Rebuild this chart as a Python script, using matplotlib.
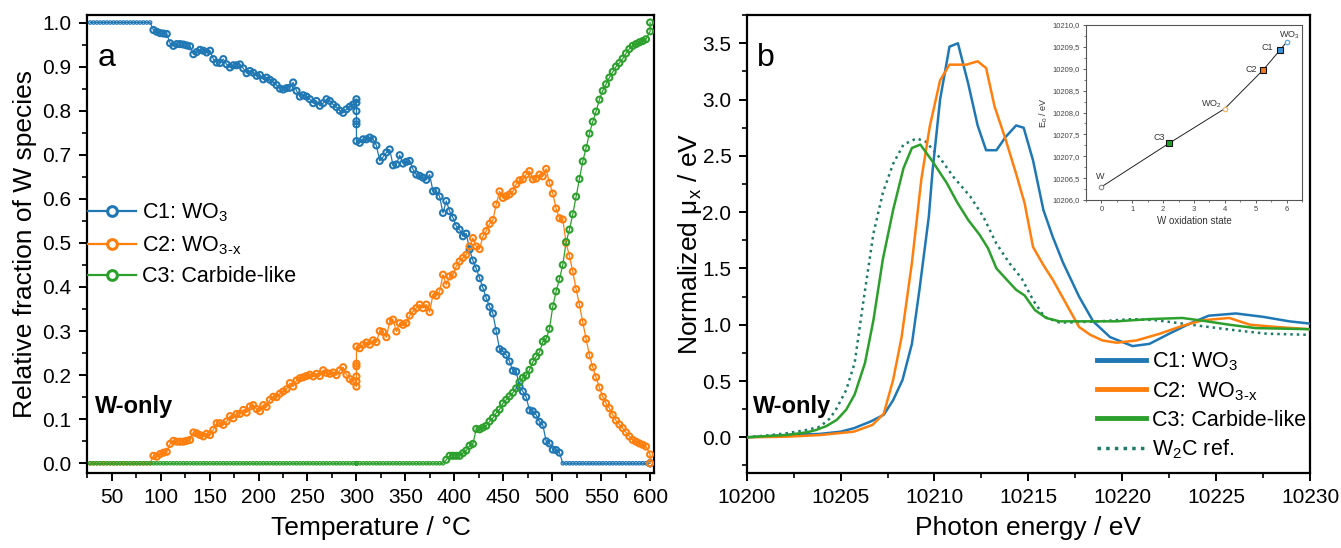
import matplotlib
matplotlib.use('Agg')
import matplotlib.pyplot as plt
from matplotlib.ticker import MultipleLocator, FuncFormatter
from matplotlib.lines import Line2D

plt.rcParams['font.family'] = ['Liberation Sans', 'DejaVu Sans']
plt.rcParams['mathtext.fontset'] = 'custom'
plt.rcParams['mathtext.rm'] = 'Liberation Sans'
plt.rcParams['mathtext.it'] = 'Liberation Sans:italic'
plt.rcParams['mathtext.bf'] = 'Liberation Sans:bold'

# ---------------- Panel a data ----------------
temperature = [
    28.0, 31.4, 34.8, 38.2, 41.6, 45.0, 48.4, 51.8, 55.2, 58.6,
    62.0, 65.4, 68.8, 72.2, 75.6, 79.0, 82.4, 85.8, 89.2, 92.6,
    96.0, 99.4, 102.8, 106.2, 109.6, 113.0, 116.4, 119.8, 123.2, 126.6,
    130.0, 133.4, 136.8, 140.2, 143.6, 147.0, 150.4, 153.8, 157.2, 160.6,
    164.0, 167.4, 170.8, 174.2, 177.6, 181.0, 184.4, 187.8, 191.2, 194.6,
    198.0, 201.4, 204.8, 208.2, 211.6, 215.0, 218.4, 221.8, 225.2, 228.6,
    232.0, 235.4, 238.8, 242.2, 245.6, 249.0, 252.4, 255.8, 259.2, 262.6,
    266.0, 269.4, 272.8, 276.2, 279.6, 283.0, 286.4, 289.8, 293.2, 296.6,
    300.0, 300.0, 300.0, 300.0, 300.0, 300.0,
    303.4, 306.8, 310.2, 313.6, 317.0, 320.4, 323.8, 327.2, 330.6, 334.0,
    337.4, 340.8, 344.2, 347.6, 351.0, 354.4, 357.8, 361.2, 364.6, 368.0,
    371.4, 374.8, 378.2, 381.6, 385.0, 388.4, 391.8, 395.2, 398.6, 402.0,
    405.4, 408.8, 412.2, 415.6, 419.0, 422.4, 425.8, 429.2, 432.6, 436.0,
    439.4, 442.8, 446.2, 449.6, 453.0, 456.4, 459.8, 463.2, 466.6, 470.0,
    473.4, 476.8, 480.2, 483.6, 487.0, 490.4, 493.8, 497.2, 500.6, 504.0,
    507.4, 510.8, 514.2, 517.6, 521.0, 524.4, 527.8, 531.2, 534.6, 538.0,
    541.4, 544.8, 548.2, 551.6, 555.0, 558.4, 561.8, 565.2, 568.6, 572.0,
    575.4, 578.8, 582.2, 585.6, 589.0, 592.4, 595.8,
    600.0, 600.0]

c1_wo3 = [
    1.0, 1.0, 1.0, 1.0, 1.0, 1.0, 1.0, 1.0, 1.0, 1.0,
    1.0, 1.0, 1.0, 1.0, 1.0, 1.0, 1.0, 1.0, 1.0, 0.983,
    0.979, 0.976, 0.975, 0.974, 0.953, 0.947, 0.951, 0.951, 0.950, 0.948,
    0.946, 0.928, 0.933, 0.938, 0.936, 0.932, 0.936, 0.917, 0.909, 0.908,
    0.917, 0.905, 0.898, 0.903, 0.903, 0.905, 0.896, 0.885, 0.890, 0.886,
    0.879, 0.881, 0.871, 0.875, 0.870, 0.865, 0.858, 0.850, 0.848, 0.851,
    0.852, 0.864, 0.845, 0.832, 0.835, 0.832, 0.826, 0.817, 0.822, 0.811,
    0.817, 0.826, 0.822, 0.814, 0.808, 0.800, 0.795, 0.803, 0.809, 0.814,
    0.826, 0.818, 0.799, 0.776, 0.769, 0.731,
    0.727, 0.735, 0.735, 0.739, 0.735, 0.721, 0.686, 0.695, 0.705, 0.712,
    0.676, 0.678, 0.699, 0.680, 0.684, 0.686, 0.667, 0.655, 0.652, 0.648,
    0.643, 0.655, 0.617, 0.618, 0.605, 0.568, 0.595, 0.572, 0.557, 0.538,
    0.530, 0.515, 0.521, 0.485, 0.460, 0.442, 0.420, 0.398, 0.375, 0.355,
    0.340, 0.300, 0.259, 0.254, 0.246, 0.231, 0.210, 0.208, 0.174, 0.163,
    0.150, 0.120, 0.118, 0.110, 0.094, 0.087, 0.050, 0.045, 0.031, 0.030,
    0.024, 0.0, 0.0, 0.0, 0.0, 0.0, 0.0, 0.0, 0.0, 0.0,
    0.0, 0.0, 0.0, 0.0, 0.0, 0.0, 0.0, 0.0, 0.0, 0.0,
    0.0, 0.0, 0.0, 0.0, 0.0, 0.0, 0.0,
    0.0, 0.0]

c2_wo3x = [
    0.0, 0.0, 0.0, 0.0, 0.0, 0.0, 0.0, 0.0, 0.0, 0.0,
    0.0, 0.0, 0.0, 0.0, 0.0, 0.0, 0.0, 0.0, 0.0, 0.017,
    0.015, 0.021, 0.024, 0.026, 0.044, 0.051, 0.049, 0.049, 0.049, 0.051,
    0.053, 0.070, 0.068, 0.064, 0.061, 0.067, 0.064, 0.076, 0.091, 0.091,
    0.087, 0.095, 0.107, 0.102, 0.112, 0.112, 0.121, 0.115, 0.129, 0.132,
    0.123, 0.118, 0.132, 0.128, 0.144, 0.151, 0.150, 0.158, 0.163, 0.168,
    0.182, 0.174, 0.188, 0.193, 0.195, 0.198, 0.201, 0.197, 0.203, 0.198,
    0.211, 0.205, 0.203, 0.206, 0.200, 0.211, 0.218, 0.201, 0.191, 0.186,
    0.174, 0.186, 0.197, 0.220, 0.226, 0.265,
    0.261, 0.269, 0.274, 0.269, 0.279, 0.275, 0.300, 0.298, 0.286, 0.322,
    0.326, 0.299, 0.318, 0.314, 0.318, 0.335, 0.345, 0.352, 0.360, 0.352,
    0.360, 0.343, 0.383, 0.380, 0.390, 0.428, 0.405, 0.424, 0.428, 0.447,
    0.458, 0.466, 0.473, 0.492, 0.511, 0.492, 0.486, 0.515, 0.527, 0.543,
    0.552, 0.587, 0.617, 0.602, 0.606, 0.610, 0.617, 0.633, 0.642, 0.644,
    0.655, 0.663, 0.644, 0.646, 0.655, 0.651, 0.668, 0.636, 0.612, 0.578,
    0.556, 0.553, 0.500, 0.470, 0.435, 0.395, 0.360, 0.320, 0.282, 0.245,
    0.218, 0.195, 0.172, 0.151, 0.136, 0.125, 0.110, 0.097, 0.088, 0.080,
    0.070, 0.061, 0.053, 0.049, 0.045, 0.042, 0.038,
    0.020, 0.000]

c3_carbide = [
    0.0, 0.0, 0.0, 0.0, 0.0, 0.0, 0.0, 0.0, 0.0, 0.0,
    0.0, 0.0, 0.0, 0.0, 0.0, 0.0, 0.0, 0.0, 0.0, 0.0,
    0.0, 0.0, 0.0, 0.0, 0.0, 0.0, 0.0, 0.0, 0.0, 0.0,
    0.0, 0.0, 0.0, 0.0, 0.0, 0.0, 0.0, 0.0, 0.0, 0.0,
    0.0, 0.0, 0.0, 0.0, 0.0, 0.0, 0.0, 0.0, 0.0, 0.0,
    0.0, 0.0, 0.0, 0.0, 0.0, 0.0, 0.0, 0.0, 0.0, 0.0,
    0.0, 0.0, 0.0, 0.0, 0.0, 0.0, 0.0, 0.0, 0.0, 0.0,
    0.0, 0.0, 0.0, 0.0, 0.0, 0.0, 0.0, 0.0, 0.0, 0.0,
    0.0, 0.0, 0.0, 0.0, 0.0, 0.0,
    0.0, 0.0, 0.0, 0.0, 0.0, 0.0, 0.0, 0.0, 0.0, 0.0,
    0.0, 0.0, 0.0, 0.0, 0.0, 0.0, 0.0, 0.0, 0.0, 0.0,
    0.0, 0.0, 0.0, 0.0, 0.0, 0.0, 0.008, 0.017, 0.017, 0.017,
    0.017, 0.023, 0.029, 0.040, 0.044, 0.078, 0.077, 0.081, 0.085, 0.095,
    0.103, 0.114, 0.122, 0.136, 0.144, 0.152, 0.160, 0.170, 0.184, 0.194,
    0.199, 0.212, 0.230, 0.242, 0.252, 0.276, 0.282, 0.305, 0.356, 0.390,
    0.418, 0.450, 0.502, 0.530, 0.565, 0.605, 0.645, 0.685, 0.715, 0.748,
    0.775, 0.798, 0.825, 0.845, 0.860, 0.875, 0.888, 0.900, 0.908, 0.918,
    0.930, 0.940, 0.947, 0.951, 0.955, 0.958, 0.962,
    0.980, 1.000]

series_a_labels = ['C1: WO$_3$', 'C2: WO$_{\\mathrm{3\u2010x}}$', 'C3: Carbide-like']

# ---------------- Panel b data ----------------
c1_energy = [10200, 10201, 10202.1, 10203.9, 10205.0, 10205.7, 10206.6, 10207.3, 10207.8, 10208.3,
             10208.8, 10209.2, 10209.7, 10209.9, 10210.3, 10210.8, 10211.25, 10211.8, 10212.3, 10212.75,
             10213.3, 10213.8, 10214.35, 10214.75, 10215.25, 10215.8, 10216.3, 10216.85, 10217.7, 10218.45,
             10219.35, 10220.55, 10221.45, 10222.5, 10223.6, 10224.6, 10226.05, 10227.5, 10228.9, 10230]
c1_mu = [0.0, 0.008, 0.02, 0.03, 0.05, 0.08, 0.14, 0.20, 0.33, 0.51,
         0.83, 1.31, 1.96, 2.37, 3.00, 3.47, 3.50, 3.14, 2.77, 2.55,
         2.55, 2.67, 2.77, 2.75, 2.46, 2.02, 1.78, 1.55, 1.25, 1.03,
         0.89, 0.81, 0.83, 0.92, 1.01, 1.08, 1.10, 1.07, 1.03, 1.01]

c2_energy = [10200, 10202.1, 10203.9, 10205.7, 10206.7, 10207.3, 10207.8, 10208.25, 10208.8, 10209.3,
             10209.75, 10210.3, 10210.8, 10211.7, 10212.3, 10212.75, 10213.2, 10213.8, 10214.35, 10214.8,
             10215.25, 10215.8, 10216.3, 10217.0, 10217.7, 10218.3, 10218.95, 10219.7, 10220.75, 10222.0,
             10223.2, 10224.3, 10225.7, 10226.8, 10228.2, 10230]
c2_mu = [0.0, 0.005, 0.02, 0.05, 0.11, 0.21, 0.51, 0.89, 1.55, 2.29,
         2.76, 3.17, 3.31, 3.31, 3.34, 3.28, 2.94, 2.64, 2.34, 2.08,
         1.69, 1.53, 1.40, 1.19, 0.98, 0.91, 0.86, 0.84, 0.86, 0.92,
         0.99, 1.04, 1.06, 1.00, 0.98, 0.96]

c3_energy = [10200, 10201, 10202.1, 10203.2, 10203.7, 10204.25, 10204.8, 10205.3, 10205.75, 10206.3,
             10206.75, 10207.25, 10207.8, 10208.35, 10208.8, 10209.25, 10209.9, 10210.65, 10211.2, 10211.8,
             10212.4, 10212.85, 10213.3, 10213.85, 10214.35, 10214.8, 10215.35, 10215.95, 10216.65, 10217.55,
             10219.7, 10221.45, 10223.2, 10224.3, 10225.7, 10227.1, 10230]
c3_mu = [0.0, 0.01, 0.02, 0.044, 0.065, 0.10, 0.155, 0.245, 0.38, 0.66,
         1.04, 1.58, 2.02, 2.39, 2.57, 2.60, 2.45, 2.26, 2.09, 1.93,
         1.80, 1.68, 1.50, 1.40, 1.31, 1.26, 1.13, 1.06, 1.03, 1.03,
         1.03, 1.05, 1.06, 1.035, 1.00, 0.97, 0.96]

w2c_energy = [10200, 10201, 10202.1, 10203.2, 10203.9, 10204.45, 10204.8, 10205.3, 10205.75, 10206.2,
              10206.75, 10207.25, 10207.8, 10208.35, 10209.05, 10209.55, 10210.3, 10211.0, 10211.9, 10212.6,
              10213.3, 10214.0, 10214.65, 10215.25, 10215.85, 10216.65, 10217.2, 10218.8, 10220.55, 10221.8,
              10223.2, 10224.6, 10226.05, 10227.7, 10230]
w2c_mu = [0.0, 0.015, 0.035, 0.065, 0.094, 0.17, 0.26, 0.42, 0.66, 1.19,
          1.81, 2.17, 2.43, 2.60, 2.655, 2.625, 2.48, 2.315, 2.14, 1.96,
          1.72, 1.545, 1.41, 1.22, 1.07, 1.02, 1.02, 1.03, 1.05, 1.04,
          1.01, 0.98, 0.95, 0.92, 0.91]

series_b_labels = ['C1: WO$_3$', 'C2:  WO$_{\\mathrm{3\u2010x}}$', 'C3: Carbide-like', 'W$_2$C ref.']

# ---------------- Inset data ----------------
ox_state = [0.0, 2.2, 4.0, 5.25, 5.78, 6.0]
edge_e0 = [10206.30, 10207.30, 10208.09, 10208.98, 10209.42, 10209.61]
point_names = ['W', 'C3', 'WO$_2$', 'C2', 'C1', 'WO$_3$']

BLUE, ORANGE, GREEN, TEAL = '#1f77b4', '#ff7f0e', '#2ca02c', '#1e7b68'

fig = plt.figure(figsize=(13.41, 5.48), dpi=100)
axA = fig.add_axes([0.0647, 0.1369, 0.4233, 0.8357])
axB = fig.add_axes([0.5568, 0.1369, 0.4201, 0.8357])
axI = fig.add_axes([0.8098, 0.635, 0.1611, 0.3193])

# ---- panel a ----
for vals, col in [(c1_wo3, BLUE), (c2_wo3x, ORANGE), (c3_carbide, GREEN)]:
    axA.plot(temperature, vals, '-', color=col, lw=0.9, zorder=2)
    flat = [(v in (0.0, 1.0) and t < 600) for t, v in zip(temperature, vals)]
    sizes = [6.0 if f else 19.0 for f in flat]
    widths = [0.9 if f else 1.5 for f in flat]
    axA.scatter(temperature, vals, s=sizes, facecolors='none', edgecolors=col,
                linewidths=widths, zorder=3)

axA.set_xlim(24.5, 604.4)
axA.set_ylim(-0.022, 1.017)
axA.xaxis.set_major_locator(MultipleLocator(50))
axA.xaxis.set_minor_locator(MultipleLocator(25))
axA.yaxis.set_major_locator(MultipleLocator(0.1))
axA.yaxis.set_minor_locator(MultipleLocator(0.05))
axA.yaxis.set_major_formatter(FuncFormatter(lambda v, p: f"{v:.1f}"))
axA.set_xlabel('Temperature / \u00b0C', fontsize=19, labelpad=6)
axA.set_ylabel('Relative fraction of W species', fontsize=19, labelpad=4)
axA.text(0.02, 0.889, 'a', transform=axA.transAxes, fontsize=23, va='baseline')
axA.text(0.015, 0.131, 'W-only', transform=axA.transAxes, fontsize=17,
         fontweight='bold', va='baseline')
handles_a = [Line2D([], [], color=c, lw=1.6, marker='o', ms=7, mfc='white', mec=c, mew=2.2)
             for c in (BLUE, ORANGE, GREEN)]
axA.legend(handles_a, series_a_labels, loc='upper left', bbox_to_anchor=(0.003, 0.592),
           frameon=False, fontsize=15.5, handlelength=2.2, handletextpad=0.3,
           labelspacing=0.45, borderpad=0, borderaxespad=0)

# ---- panel b ----
axB.plot(w2c_energy, w2c_mu, color=TEAL, lw=1.8, ls=(0, (1, 1.6)), zorder=2)
axB.plot(c1_energy, c1_mu, color=BLUE, lw=1.8, zorder=3)
axB.plot(c2_energy, c2_mu, color=ORANGE, lw=1.8, zorder=3)
axB.plot(c3_energy, c3_mu, color=GREEN, lw=1.8, zorder=4)
axB.set_xlim(10200, 10230)
axB.set_ylim(-0.317, 3.751)
axB.xaxis.set_major_locator(MultipleLocator(5))
axB.xaxis.set_minor_locator(MultipleLocator(2.5))
axB.yaxis.set_major_locator(MultipleLocator(0.5))
axB.yaxis.set_minor_locator(MultipleLocator(0.25))
axB.xaxis.set_major_formatter(FuncFormatter(lambda v, p: f"{v:.0f}"))
axB.yaxis.set_major_formatter(FuncFormatter(lambda v, p: f"{v:.1f}"))
axB.set_xlabel('Photon energy / eV', fontsize=19, labelpad=6)
axB.set_ylabel('Normalized \u03bc$_\\mathrm{x}$ / eV', fontsize=19, labelpad=-1)
axB.text(0.018, 0.889, 'b', transform=axB.transAxes, fontsize=23, va='baseline')
axB.text(0.012, 0.131, 'W-only', transform=axB.transAxes, fontsize=17,
         fontweight='bold', va='baseline')
handles_b = [Line2D([], [], color=BLUE, lw=3.5), Line2D([], [], color=ORANGE, lw=3.5),
             Line2D([], [], color=GREEN, lw=3.5),
             Line2D([], [], color=TEAL, lw=2.5, ls=(0, (1, 1.5)))]
axB.legend(handles_b, series_b_labels, loc='upper left', bbox_to_anchor=(0.621, 0.268),
           frameon=False, fontsize=15.5, handlelength=2.3, handletextpad=0.3,
           labelspacing=0.33, borderpad=0, borderaxespad=0)

for ax in (axA, axB):
    for s in ax.spines.values():
        s.set_linewidth(1.6)
    ax.tick_params(which='major', direction='out', length=6, width=1.4, labelsize=15, pad=5)
    ax.tick_params(which='minor', direction='out', length=3.5, width=1.2)

# ---- inset ----
axI.plot(ox_state, edge_e0, '-', color='#222222', lw=0.7, zorder=2)
inset_style = [
    dict(marker='o', ms=3.2, mfc='white', mec='#888888', mew=0.8),
    dict(marker='s', ms=5, mfc='#22a02a', mec='#111111', mew=0.8),
    dict(marker='o', ms=3.2, mfc='white', mec='#f5b860', mew=0.9),
    dict(marker='s', ms=5, mfc='#f07a20', mec='#111111', mew=0.8),
    dict(marker='s', ms=5, mfc='#3a94d8', mec='#111111', mew=0.8),
    dict(marker='o', ms=3.2, mfc='white', mec='#5aa5e0', mew=0.9),
]
for x, y, st in zip(ox_state, edge_e0, inset_style):
    axI.plot([x], [y], ls='none', zorder=3, **st)
label_offsets = [(-0.05, 0.23), (-0.33, 0.12), (-0.43, 0.10), (-0.38, 0.01), (-0.39, 0.06), (0.09, 0.16)]
for x, y, name, (dx, dy) in zip(ox_state, edge_e0, point_names, label_offsets):
    axI.text(x + dx, y + dy, name, fontsize=6.5, color='#333333', ha='center', va='center')
axI.set_xlim(-0.5, 6.5)
axI.set_ylim(10206, 10210)
axI.xaxis.set_major_locator(MultipleLocator(1))
axI.xaxis.set_minor_locator(MultipleLocator(0.5))
axI.yaxis.set_major_locator(MultipleLocator(0.5))
axI.yaxis.set_minor_locator(MultipleLocator(0.25))
axI.yaxis.set_major_formatter(FuncFormatter(lambda v, p: f"{v:.1f}".replace('.', ',')))
axI.tick_params(which='major', direction='out', length=2.5, width=0.6, labelsize=5.5,
                colors='#444444', pad=2)
axI.tick_params(which='minor', direction='out', length=1.5, width=0.5, colors='#444444')
axI.set_xlabel('W oxidation state', fontsize=7, color='#333333', labelpad=2)
axI.set_ylabel('E$_0$ / eV', fontsize=6.5, color='#333333', labelpad=2)
for s in axI.spines.values():
    s.set_linewidth(0.8)
    s.set_color('#555555')

fig.savefig('out.png', dpi=100)
